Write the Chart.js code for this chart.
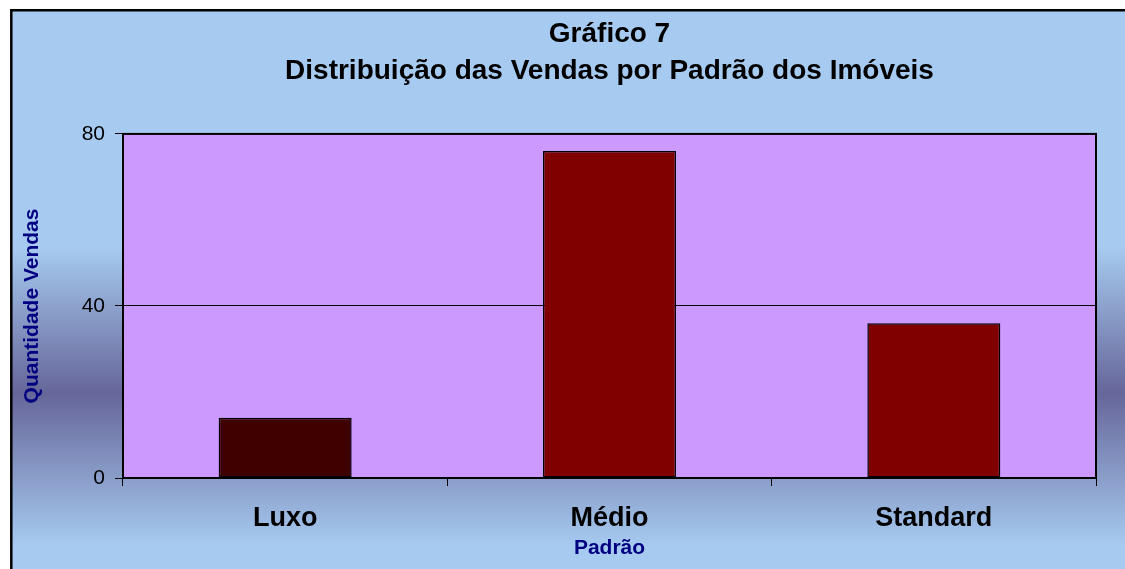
<!DOCTYPE html>
<html>
<head>
<meta charset="utf-8">
<script src="https://cdn.jsdelivr.net/npm/chart.js@4.4.1/dist/chart.umd.min.js"></script>
<style>
    body { margin: 0; background: #ffffff; }
    #wrap { width: 1125px; height: 569px; position: relative; }
</style>
</head>
<body>
<div id="wrap"><canvas id="vendasChart"></canvas></div>
<script>
// Dados do gráfico
const categorias = ['Luxo', 'Médio', 'Standard'];
const vendas = [14, 76, 36];
const yTicks = [0, 40, 80];
const tituloLinhas = ['Gráfico 7', 'Distribuição das Vendas por Padrão dos Imóveis'];

// Cores das barras (Luxo mais escuro)
const barColors = ['#3f0000', '#800000', '#800000'];

const FONT = "'Liberation Sans', Arial, sans-serif";

// Fundo degradê + área de plotagem lilás
const backgroundPlugin = {
    id: 'backgroundPlugin',
    beforeDraw(chart) {
        const ctx = chart.ctx;
        const w = chart.width, h = chart.height;
        const area = chart.chartArea;
        ctx.save();
        ctx.fillStyle = '#ffffff';
        ctx.fillRect(0, 0, w, h);

        const grad = ctx.createLinearGradient(0, 0, 0, h);
        grad.addColorStop(0, '#a6caf0');
        grad.addColorStop(248 / h, '#a6caf0');
        grad.addColorStop(393 / h, '#666699');
        grad.addColorStop(545 / h, '#a6caf0');
        grad.addColorStop(1, '#a6caf0');
        ctx.fillStyle = grad;
        ctx.fillRect(11, 10, w - 11, h - 10);

        // borda externa (só topo e esquerda aparecem)
        ctx.strokeStyle = '#000000';
        ctx.lineWidth = 2.5;
        ctx.beginPath();
        ctx.moveTo(11.3, h);
        ctx.lineTo(11.3, 10.3);
        ctx.lineTo(w, 10.3);
        ctx.stroke();

        ctx.fillStyle = '#cc99ff';
        ctx.fillRect(area.left, area.top, area.right - area.left, area.bottom - area.top);
        ctx.restore();
    },
    afterDraw(chart) {
        const ctx = chart.ctx;
        const area = chart.chartArea;
        ctx.save();
        ctx.strokeStyle = '#000000';
        ctx.lineWidth = 2;
        ctx.strokeRect(area.left, area.top, area.right - area.left, area.bottom - area.top);
        ctx.restore();
    }
};

const ctx = document.getElementById('vendasChart').getContext('2d');
new Chart(ctx, {
    type: 'bar',
    data: {
        labels: categorias,
        datasets: [{
            label: 'Quantidade Vendas',
            data: vendas,
            backgroundColor: barColors,
            borderColor: '#000000',
            borderWidth: 1.5,
            borderSkipped: false,
            barPercentage: 0.41,
            categoryPercentage: 1.0
        }]
    },
    options: {
        responsive: true,
        maintainAspectRatio: false,
        animation: false,
        layout: {
            padding: { left: 0, right: 29, top: 0, bottom: 0 }
        },
        plugins: {
            legend: { display: false },
            tooltip: { enabled: false },
            title: {
                display: true,
                fullSize: false,
                text: tituloLinhas,
                color: '#000000',
                font: { family: FONT, size: 28, weight: 'bold', lineHeight: 1.32 },
                padding: { top: 16, bottom: 44 }
            }
        },
        scales: {
            x: {
                grid: {
                    display: true,
                    offset: true,
                    drawOnChartArea: false,
                    drawTicks: true,
                    tickLength: 8,
                    color: '#000000',
                    lineWidth: 1
                },
                border: { display: true, color: '#000000', width: 2 },
                ticks: {
                    color: '#000000',
                    padding: 16,
                    font: { family: FONT, size: 27, weight: 'bold' }
                },
                title: {
                    display: true,
                    text: 'Padrão',
                    color: '#000080',
                    font: { family: FONT, size: 21, weight: 'bold' },
                    padding: { top: 0, bottom: 8 }
                },
                afterFit(scale) { scale.height = 91; }
            },
            y: {
                min: 0,
                max: 80,
                afterBuildTicks(scale) {
                    scale.ticks = yTicks.map(v => ({ value: v }));
                },
                grid: {
                    color: '#000000',
                    lineWidth: 1,
                    drawTicks: true,
                    tickLength: 8
                },
                border: { display: true, color: '#000000', width: 2 },
                ticks: {
                    color: '#000000',
                    padding: 10,
                    font: { family: FONT, size: 21 }
                },
                title: {
                    display: true,
                    text: 'Quantidade Vendas',
                    color: '#000080',
                    font: { family: FONT, size: 21, weight: 'bold' },
                    padding: { top: 20, bottom: 0 }
                },
                afterFit(scale) { scale.width = 123; }
            }
        }
    },
    plugins: [backgroundPlugin]
});
</script>
</body>
</html>
